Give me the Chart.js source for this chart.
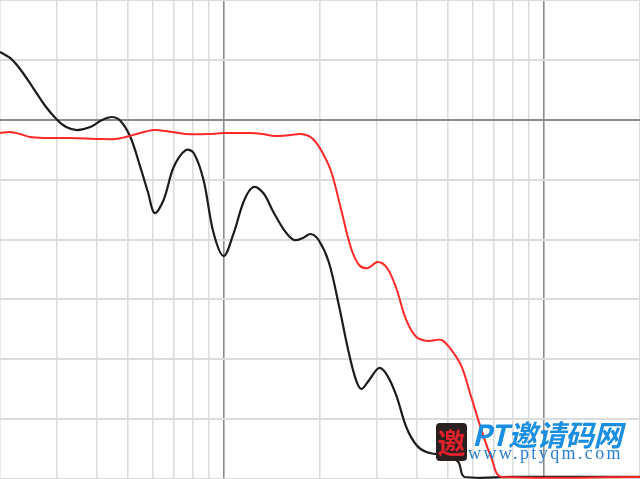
<!DOCTYPE html>
<html>
<head>
<meta charset="utf-8">
<script src="https://cdn.jsdelivr.net/npm/chart.js@4.4.1/dist/chart.umd.min.js"></script>
<style>
  html, body { margin: 0; padding: 0; background: #fff; }
  #wrap { position: relative; width: 640px; height: 479px; }
  .seal { position: absolute; left: 436px; top: 423px; width: 31px; height: 38px; background: #2b2020; border-radius: 4px;
          color: #e0202a; font: bold 28px "Noto Sans CJK SC"; line-height: 38px; text-align: center; }
  .brand { position: absolute; left: 472px; top: 417px; color: #1a8fe2; font: italic bold 29px "Noto Sans CJK SC"; line-height: 32px; letter-spacing: -0.5px; }
  .url { position: absolute; left: 468px; top: 444px; color: #2b7fd2; font: 18px "Liberation Serif"; line-height: 18px; letter-spacing: 2.4px; }
</style>
</head>
<body>
<div id="wrap">
  <canvas id="chart"></canvas>
  <div class="seal">邀</div>
  <div class="brand">PT邀请码网</div>
  <div class="url">www.ptyqm.com</div>
</div>
<script>
// frequency (Hz) and level (dB)
const blackFreq = [20, 21.5, 23.1, 25.4, 27.7, 30.2, 32.2, 34.8, 38.3, 41.7, 44.8, 47.6, 51.1, 54.9, 58.1, 60.8,
  64.9, 69.8, 76.1, 80.6, 86.5, 93, 100, 107, 116, 124, 133, 143, 156, 166, 177, 187, 198, 213, 229, 245, 258,
  269, 285, 306, 324, 346, 372, 400, 430, 497, 541, 566, 800, 2000];
const blackDb = [5.66, 5.16, 4.24, 2.65, 1.15, -0.02, -0.61, -0.86, -0.61, -0.02, 0.23, -0.1, -1.44, -3.95, -6.12, -7.79,
  -6.7, -3.95, -2.53, -2.78, -5.03, -9.46, -11.38, -9.62, -6.7, -5.62, -6.12, -7.7, -9.37, -10.04, -9.87, -9.54, -10.04, -11.88, -15.47, -19.23, -21.57,
  -22.48, -21.73, -20.73, -21.32, -22.99, -25.66, -27.16, -27.75, -28.08, -28.58, -29.83, -29.83, -29.83];

const redFreq = [20, 21.5, 23.1, 24.8, 27.7, 33.1, 41.1, 45.8, 49.4, 54.9, 60.4, 65.8, 76.1, 91.4, 99.3, 120, 132,
  145, 162, 174, 185, 194, 204, 217, 233, 250, 265, 282, 303, 324, 346, 372, 400, 436, 479, 515, 553, 595, 639,
  687, 739, 2000];
const redDb = [-1.11, -1.03, -1.19, -1.44, -1.52, -1.52, -1.61, -1.61, -1.44, -1.11, -0.86, -0.94, -1.19, -1.19, -1.11, -1.11, -1.19,
  -1.36, -1.27, -1.19, -1.36, -1.86, -2.78, -4.36, -7.54, -10.71, -12.13, -12.38, -11.88, -12.38, -14.05, -16.72, -18.14, -18.48, -18.39, -19.23, -20.56, -23.24, -25.9,
  -28.25, -29.83, -29.83];

const xTicks = [20, 30, 40, 50, 60, 70, 80, 90, 100, 200, 300, 400, 500, 600, 700, 800, 900, 1000, 2000];

const toPoints = (xs, ys) => xs.map((x, i) => ({ x: x, y: ys[i] }));

new Chart(document.getElementById('chart'), {
  type: 'line',
  data: {
    datasets: [
      {
        data: toPoints(redFreq, redDb),
        borderColor: 'rgb(255, 40, 40)',
        borderWidth: 2,
        pointRadius: 0,
        tension: 0.35
      },
      {
        data: toPoints(blackFreq, blackDb),
        borderColor: '#1c1c1c',
        borderWidth: 2.2,
        pointRadius: 0,
        tension: 0.35
      }
    ]
  },
  options: {
    responsive: true,
    maintainAspectRatio: false,
    animation: false,
    layout: { padding: 0 },
    plugins: { legend: { display: false }, tooltip: { enabled: false } },
    scales: {
      x: {
        type: 'logarithmic',
        min: 20,
        max: 2000,
        afterBuildTicks: (scale) => { scale.ticks = xTicks.map(v => ({ value: v })); },
        ticks: { display: false },
        border: { display: false },
        grid: {
          drawTicks: false,
          lineWidth: 1.6,
          color: (ctx) => (ctx.tick && (ctx.tick.value === 100 || ctx.tick.value === 1000)) ? '#8c8c8c' : '#dcdcdc'
        }
      },
      y: {
        min: -30,
        max: 10,
        ticks: { display: false, stepSize: 5 },
        border: { display: false },
        grid: {
          drawTicks: false,
          lineWidth: 2,
          color: (ctx) => (ctx.tick && ctx.tick.value === 0) ? '#8c8c8c' : '#dcdcdc'
        }
      }
    }
  }
});
</script>
</body>
</html>
